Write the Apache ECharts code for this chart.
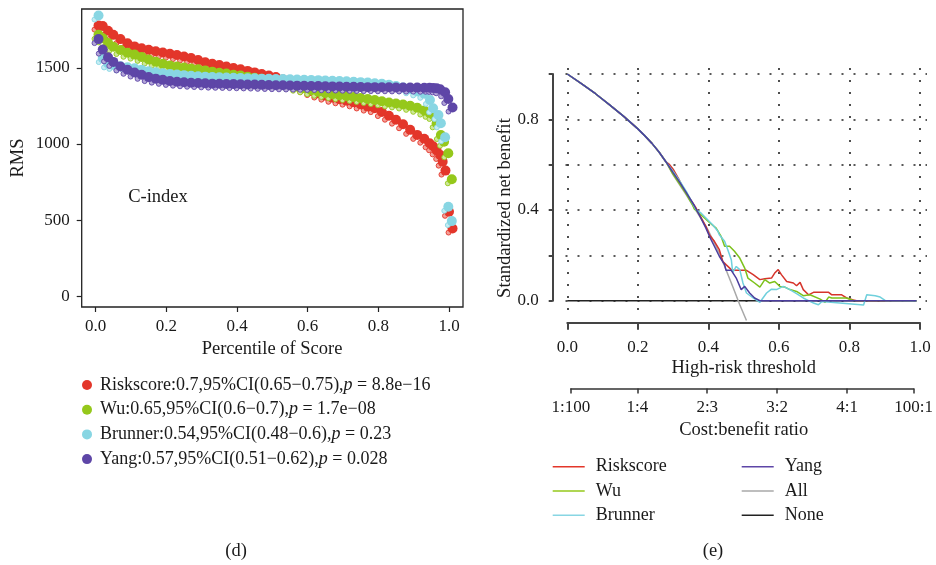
<!DOCTYPE html>
<html><head><meta charset="utf-8">
<script src="https://cdn.jsdelivr.net/npm/echarts@6/dist/echarts.min.js"></script>
<style>html,body{margin:0;padding:0;background:#fff}#c{width:936px;height:565px}</style>
</head><body><div id="c"></div>
<script>
// ---------- Panel (d): RMS vs percentile of score ----------
const seriesNames = ['Riskscore', 'Wu', 'Brunner', 'Yang'];
const cIndex = ['0.7', '0.65', '0.54', '0.57'];
const ciLow = ['0.65', '0.6', '0.48', '0.51'];
const ciHigh = ['0.75', '0.7', '0.6', '0.62'];
const pValues = ['8.8e\u221216', '1.7e\u221208', '0.23', '0.028'];

const pctBase = [0.008, 0.02, 0.035, 0.05, 0.07, 0.09, 0.11, 0.13, 0.15, 0.17, 0.19, 0.21, 0.23, 0.25, 0.27, 0.29, 0.31, 0.33, 0.35, 0.37, 0.39, 0.41, 0.43, 0.45, 0.47, 0.49, 0.51, 0.53, 0.55, 0.57, 0.59, 0.61, 0.63, 0.65, 0.67, 0.69, 0.71, 0.73, 0.75, 0.77, 0.79, 0.81, 0.83, 0.85, 0.87, 0.89, 0.91, 0.93];

const riskRMS = [1779, 1776, 1745, 1718, 1690, 1662, 1642, 1630, 1620, 1610, 1602, 1594, 1585, 1576, 1566, 1552, 1538, 1528, 1520, 1510, 1500, 1491, 1481, 1471, 1461, 1451, 1440, 1425, 1408, 1388, 1368, 1348, 1332, 1318, 1304, 1294, 1285, 1274, 1260, 1246, 1236, 1210, 1186, 1160, 1130, 1093, 1060, 1035];
const riskTailPct = [0.945, 0.955, 0.965, 0.975, 0.982, 0.99, 1.0, 1.01];
const riskTailRMS = [1005, 985, 958, 928, 884, 825, 554, 444];

const wuRMS = [1718, 1695, 1665, 1640, 1618, 1600, 1588, 1573, 1556, 1541, 1528, 1517, 1509, 1503, 1497, 1491, 1484, 1476, 1469, 1463, 1456, 1450, 1443, 1436, 1429, 1420, 1410, 1400, 1389, 1377, 1366, 1354, 1344, 1336, 1328, 1321, 1315, 1310, 1303, 1296, 1289, 1281, 1273, 1267, 1260, 1251, 1238, 1220];
const wuTailPct = [0.945, 0.956, 0.965, 0.977, 0.986, 0.998, 1.008];
const wuTailRMS = [1205, 1191, 1136, 1059, 1015, 939, 768];

const brunnerRMS = [1845, 1565, 1530, 1520, 1511, 1505, 1498, 1488, 1479, 1472, 1466, 1461, 1457, 1453, 1449, 1446, 1443, 1441, 1439, 1437, 1435, 1434, 1433, 1432, 1430, 1429, 1428, 1427, 1426, 1424, 1423, 1421, 1420, 1418, 1416, 1414, 1412, 1410, 1407, 1404, 1400, 1396, 1390, 1382, 1372, 1360, 1346, 1330];
const brunnerTailPct = [0.946, 0.955, 0.97, 0.977, 0.989, 0.998, 1.008];
const brunnerTailRMS = [1290, 1235, 1191, 1136, 1044, 587, 493];

const yangRMS = [1690, 1621, 1570, 1540, 1510, 1488, 1470, 1455, 1440, 1430, 1422, 1415, 1410, 1406, 1403, 1401, 1399, 1397, 1396, 1395, 1394, 1393, 1392, 1391, 1389, 1388, 1387, 1386, 1385, 1384, 1383, 1382, 1381, 1380, 1379, 1378, 1377, 1376, 1375, 1374, 1374, 1373, 1373, 1372, 1372, 1371, 1371, 1370];
const yangTailPct = [0.945, 0.955, 0.965, 0.975, 0.989, 0.998, 1.01];
const yangTailRMS = [1370, 1369, 1366, 1360, 1340, 1296, 1240];

const pctTicks = [0, 0.2, 0.4, 0.6, 0.8, 1.0];
const rmsTicks = [0, 500, 1000, 1500];

// ---------- Panel (e): decision curves ----------
const commonX = [0, 0.04, 0.08, 0.12, 0.16, 0.20, 0.22, 0.24, 0.26, 0.28];
const commonY = [1.0, 0.958, 0.913, 0.864, 0.813, 0.758, 0.727, 0.694, 0.656, 0.612];

const riskX = [0.29, 0.30, 0.315, 0.331, 0.35, 0.365, 0.374, 0.393, 0.403, 0.417, 0.431, 0.441, 0.45, 0.465, 0.479, 0.508, 0.527, 0.546, 0.56, 0.579, 0.588, 0.598, 0.607, 0.622, 0.641, 0.65, 0.66, 0.669, 0.684, 0.698, 0.741, 0.75, 0.778, 0.792, 0.811, 0.82, 0.99];
const riskY = [0.600, 0.580, 0.540, 0.490, 0.445, 0.409, 0.382, 0.328, 0.290, 0.262, 0.225, 0.173, 0.159, 0.137, 0.134, 0.134, 0.115, 0.093, 0.097, 0.100, 0.122, 0.137, 0.115, 0.085, 0.078, 0.066, 0.081, 0.049, 0.026, 0.037, 0.037, 0.026, 0.026, 0.012, 0.003, 0, 0];

const wuX = [0.298, 0.317, 0.336, 0.355, 0.36, 0.379, 0.403, 0.422, 0.436, 0.446, 0.46, 0.474, 0.489, 0.503, 0.512, 0.531, 0.546, 0.56, 0.574, 0.588, 0.603, 0.617, 0.631, 0.65, 0.669, 0.688, 0.717, 0.731, 0.741, 0.75, 0.792, 0.811, 0.99];
const wuY = [0.563, 0.519, 0.475, 0.423, 0.405, 0.379, 0.345, 0.32, 0.284, 0.24, 0.24, 0.218, 0.188, 0.144, 0.1, 0.078, 0.06, 0.093, 0.078, 0.085, 0.063, 0.06, 0.049, 0.041, 0.022, 0.026, 0.007, -0.007, 0.016, 0.012, 0.012, 0.001, 0];

const brunnerX = [0.30, 0.32, 0.34, 0.365, 0.379, 0.393, 0.412, 0.427, 0.431, 0.446, 0.455, 0.465, 0.469, 0.479, 0.489, 0.498, 0.508, 0.527, 0.546, 0.565, 0.579, 0.593, 0.612, 0.631, 0.65, 0.669, 0.688, 0.698, 0.712, 0.722, 0.727, 0.84, 0.849, 0.873, 0.887, 0.901, 0.99];
const brunnerY = [0.57, 0.525, 0.475, 0.401, 0.387, 0.365, 0.335, 0.306, 0.291, 0.262, 0.225, 0.181, 0.125, 0.151, 0.137, 0.078, 0.034, 0.012, -0.007, 0.034, 0.051, 0.049, 0.063, 0.049, 0.031, 0.012, -0.003, -0.01, -0.018, -0.003, -0.003, -0.019, 0.026, 0.022, 0.016, 0.001, 0];

const yangX = [0.30, 0.32, 0.34, 0.36, 0.374, 0.393, 0.403, 0.417, 0.431, 0.446, 0.45, 0.465, 0.479, 0.493, 0.503, 0.517, 0.531, 0.546, 0.99];
const yangY = [0.565, 0.52, 0.47, 0.42, 0.379, 0.32, 0.284, 0.24, 0.196, 0.159, 0.134, 0.134, 0.1, 0.049, 0.063, 0.034, 0.012, 0, 0];

const allX = [0.30, 0.34, 0.38, 0.398, 0.431, 0.469, 0.489, 0.508];
const allY = [0.555, 0.46, 0.36, 0.315, 0.21, 0.063, -0.018, -0.087];

const noneX = [0, 0.99];
const noneY = [0, 0];

const thresholdTicks = [0, 0.2, 0.4, 0.6, 0.8, 1.0];
const netBenefitTicks = [0, 0.2, 0.4, 0.6, 0.8, 1.0];
const netBenefitLabels = [0, 0.4, 0.8];
const ratioTicks = [1 / 101, 0.2, 0.4, 0.6, 0.8, 100 / 101];
const ratioLabels = ['1:100', '1:4', '2:3', '3:2', '4:1', '100:1'];

// ---------- styling ----------
const FONT = "'Liberation Serif', 'DejaVu Serif', serif";
const TXT = '#1a1a1a';
const leftColors = ['#e3362a', '#95c81b', '#88d6e3', '#5e46a7'];
const leftShadow = ['#f2a097', '#cde79a', '#c6ecf3', '#b3a6d8'];
const dcaColors = {Riskscore: '#d6342b', Wu: '#7cc11a', Brunner: '#6fd0dc', Yang: '#4b3d9e', All: '#a8a8a8', None: '#222222'};

function zip(xs, ys) { return xs.map((x, i) => [x, ys[i]]); }

const leftSets = [
  [pctBase.concat(riskTailPct), riskRMS.concat(riskTailRMS)],
  [pctBase.concat(wuTailPct), wuRMS.concat(wuTailRMS)],
  [pctBase.concat(brunnerTailPct), brunnerRMS.concat(brunnerTailRMS)],
  [pctBase.concat(yangTailPct), yangRMS.concat(yangTailRMS)]
];

const series = [];
leftSets.forEach((s, i) => {
  const data = zip(s[0], s[1]);
  series.push({
    name: seriesNames[i] + '_s', type: 'scatter', xAxisIndex: 0, yAxisIndex: 0,
    data, symbolSize: 5, symbolOffset: [-4, 4], silent: true,
    itemStyle: {color: leftShadow[i], borderColor: leftColors[i], borderWidth: 0.9, opacity: 1}
  });
  series.push({
    name: seriesNames[i], type: 'scatter', xAxisIndex: 0, yAxisIndex: 0,
    data, symbolSize: 10, itemStyle: {color: leftColors[i], opacity: 1}
  });
});

const dcaSets = [
  ['None', noneX, noneY, false],
  ['All', allX, allY, true],
  ['Riskscore', riskX, riskY, true],
  ['Wu', wuX, wuY, true],
  ['Brunner', brunnerX, brunnerY, true],
  ['Yang', yangX, yangY, true]
];
dcaSets.forEach(([name, xs, ys, withCommon]) => {
  const data = withCommon ? zip(commonX.concat(xs), commonY.concat(ys)) : zip(xs, ys);
  series.push({
    name, type: 'line', xAxisIndex: 1, yAxisIndex: 1, data,
    symbol: 'none', clip: false, color: dcaColors[name],
    lineStyle: {width: 1.5, color: dcaColors[name]}
  });
});

const labelStyle = {fontFamily: FONT, fontSize: 17, color: TXT};

function txt(text, x, y, extra) {
  return Object.assign({
    type: 'text', x, y,
    style: {text, fontFamily: FONT, fontSize: 18.5, fill: TXT, textAlign: 'center', textVerticalAlign: 'middle'}
  }, extra || {});
}

const option = {
  animation: false,
  backgroundColor: '#fff',
  grid: [
    {left: 81.7, top: 9, width: 381.3, height: 298, show: true, borderColor: '#222', borderWidth: 1.3, backgroundColor: 'transparent'},
    {left: 567.3, top: 74, width: 352.7, height: 226.7},
    {left: 565.5, top: 67.9, width: 361.5, height: 244.2},
    {left: 570.8, top: 74, width: 345.7, height: 226.7}
  ],
  xAxis: [
    {gridIndex: 0, type: 'value', min: -0.0396, max: 1.0396, position: 'bottom',
     axisLine: {show: false, onZero: false}, splitLine: {show: false},
     axisTick: {show: true, customValues: pctTicks, length: 5, lineStyle: {color: '#222', width: 1.2}},
     axisLabel: {customValues: pctTicks, formatter: v => v.toFixed(1), margin: 11, ...labelStyle}},
    {gridIndex: 1, type: 'value', min: 0, max: 1, interval: 0.2, position: 'bottom', offset: 22,
     axisLine: {show: true, onZero: false, lineStyle: {color: '#444', width: 2}}, splitLine: {show: false},
     axisTick: {show: true, length: 7, lineStyle: {color: '#444', width: 2}},
     axisLabel: {formatter: v => v.toFixed(1), margin: 16, ...labelStyle}},
    {gridIndex: 2, type: 'value', min: -0.005, max: 1.02,
     axisLine: {show: false, onZero: false}, axisLabel: {show: false},
     axisTick: {show: false, customValues: thresholdTicks},
     splitLine: {show: true, lineStyle: {color: '#222', width: 1.6, type: [2, 10]}}},
    {gridIndex: 3, type: 'value', min: 1 / 101, max: 100 / 101, position: 'bottom', offset: 87.7,
     axisLine: {show: true, onZero: false, lineStyle: {color: '#333', width: 1.5}}, splitLine: {show: false},
     axisTick: {show: true, customValues: ratioTicks, length: 5, lineStyle: {color: '#333', width: 1.5}},
     axisLabel: {customValues: ratioTicks, margin: 11, ...labelStyle,
       formatter: v => { let best = 0; ratioTicks.forEach((t, i) => { if (Math.abs(t - v) < Math.abs(ratioTicks[best] - v)) best = i; }); return ratioLabels[best]; }}}
  ],
  yAxis: [
    {gridIndex: 0, type: 'value', min: -72, max: 1888, position: 'left',
     axisLine: {show: false, onZero: false}, splitLine: {show: false},
     axisTick: {show: true, customValues: rmsTicks, length: 5, lineStyle: {color: '#222', width: 1.2}},
     axisLabel: {customValues: rmsTicks, formatter: v => String(v), margin: 12, ...labelStyle}},
    {gridIndex: 1, type: 'value', min: 0, max: 1, interval: 0.2, offset: 14.6,
     axisLine: {show: true, onZero: false, lineStyle: {color: '#444', width: 2}}, splitLine: {show: false},
     axisTick: {show: true, customValues: netBenefitTicks, length: 4, lineStyle: {color: '#444', width: 2}},
     axisLabel: {customValues: netBenefitLabels, formatter: v => v.toFixed(1), margin: 14, ...labelStyle}},
    {gridIndex: 2, type: 'value', min: -0.05, max: 1.027,
     axisLine: {show: false, onZero: false}, axisLabel: {show: false},
     axisTick: {show: false, customValues: netBenefitTicks},
     splitLine: {show: true, lineStyle: {color: '#222', width: 1.6, type: [2, 10]}}},
    {gridIndex: 3, type: 'value', min: 0, max: 1, show: false}
  ],
  legend: [
    {data: seriesNames, orient: 'vertical', left: 82, top: 375, padding: 0, itemGap: 4.7,
     icon: 'circle', itemWidth: 10, itemHeight: 10, selectedMode: false,
     formatter: name => { const i = seriesNames.indexOf(name); return name + ':' + cIndex[i] + ',95%CI(' + ciLow[i] + '\u2212' + ciHigh[i] + '),{i|p} = ' + pValues[i]; },
     textStyle: {fontFamily: FONT, fontSize: 18, color: TXT, lineHeight: 20, padding: [0, 0, 0, 3],
       rich: {i: {fontFamily: FONT, fontSize: 18, fontStyle: 'italic', color: TXT}}}},
    {data: ['Riskscore', 'Wu', 'Brunner'], orient: 'vertical', left: 552.7, top: 456.7, padding: 0, itemGap: 4.3,
     icon: 'rect', itemWidth: 32, itemHeight: 1.6, selectedMode: false,
     textStyle: {fontFamily: FONT, fontSize: 18, color: TXT, lineHeight: 20, padding: [0, 0, 0, 6]}},
    {data: ['Yang', 'All', 'None'], orient: 'vertical', left: 741.7, top: 456.7, padding: 0, itemGap: 4.3,
     icon: 'rect', itemWidth: 32, itemHeight: 1.6, selectedMode: false,
     textStyle: {fontFamily: FONT, fontSize: 18, color: TXT, lineHeight: 20, padding: [0, 0, 0, 6]}}
  ],
  graphic: [
    txt('C-index', 158, 197),
    txt('Percentile of Score', 272, 349),
    txt('RMS', 18, 158, {rotation: Math.PI / 2}),
    txt('Standardized net benefit', 505, 208, {rotation: Math.PI / 2}),
    txt('High-risk threshold', 743.7, 368),
    txt('Cost:benefit ratio', 743.7, 430),
    txt('(d)', 236, 551),
    txt('(e)', 713, 551)
  ],
  series
};

const chart = echarts.init(document.getElementById('c'), null, {renderer: 'canvas'});
chart.setOption(option);
</script></body></html>
